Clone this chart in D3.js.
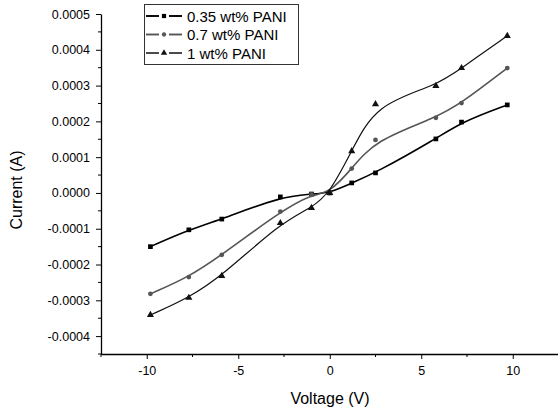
<!DOCTYPE html>
<html>
<head>
<meta charset="utf-8">
<script src="https://cdn.jsdelivr.net/npm/d3@7"></script>
<style>
  body { margin: 0; background: #fff; }
  text { font-family: "Liberation Sans", Arial, sans-serif; }
</style>
</head>
<body>
<script>
// data
var voltage = [-9.8, -7.7, -5.9, -2.7, -1.0, 0, 1.2, 2.5, 5.8, 7.2, 9.7];
var pani035 = [-0.000150, -0.000103, -0.000073, -0.000011, -0.000003, 0, 0.000028, 0.000056, 0.000151, 0.000198, 0.000246];
var pani07  = [-0.000282, -0.000235, -0.000173, -0.000052, -0.000004, 0, 0.000068, 0.000148, 0.000210, 0.000251, 0.000349];
var pani1   = [-0.000341, -0.000293, -0.000232, -0.000084, -0.000042, 0, 0.000117, 0.000248, 0.000299, 0.000349, 0.000439];
var seriesNames = ["0.35 wt% PANI", "0.7 wt% PANI", "1 wt% PANI"];
var xTicks = [-10, -5, 0, 5, 10];
var yTicks = [-0.0004, -0.0003, -0.0002, -0.0001, 0, 0.0001, 0.0002, 0.0003, 0.0004, 0.0005];

var W = 558, H = 409;

var x = d3.scaleLinear().domain([-12.5, 12.5]).range([101, 558.5]);
var y = d3.scaleLinear().domain([-0.00045, 0.0005]).range([354, 14]);

var svg = d3.select("body").append("svg")
    .attr("width", W)
    .attr("height", H);

// x axis
var xMinor = [-12.5, -7.5, -2.5, 2.5, 7.5, 12.5];
var gx = svg.append("g").attr("transform", "translate(0,354)");
gx.call(d3.axisBottom(x).tickValues(xTicks).tickSize(5).tickSizeOuter(0).tickFormat(d3.format("d")));
gx.append("g").selectAll("line").data(xMinor).enter().append("line")
    .attr("x1", d => x(d)).attr("x2", d => x(d))
    .attr("y1", 0).attr("y2", 3).attr("stroke", "#000");
gx.select(".domain").attr("stroke-width", 1.3);
gx.selectAll(".tick text").attr("font-size", 12.5).attr("y", 12).attr("dy", "0.75em")
    .attr("font-family", "Liberation Sans, Arial, sans-serif")
    .text(d => String(d).replace("\u2212", "-"));

// y axis
var yMinor = d3.range(-0.00045, 0.0005, 0.0001);
var gy = svg.append("g").attr("transform", "translate(101,0)");
gy.call(d3.axisLeft(y).tickValues(yTicks).tickSize(5).tickSizeOuter(0)
    .tickFormat(d => (Math.abs(d) < 1e-12 ? 0 : d).toFixed(4)));
gy.append("g").selectAll("line").data(yMinor).enter().append("line")
    .attr("y1", d => y(d)).attr("y2", d => y(d))
    .attr("x1", 0).attr("x2", -3).attr("stroke", "#000");
gy.select(".domain").attr("stroke-width", 1.3);
gy.selectAll(".tick text").attr("font-size", 12.5).attr("x", -11)
    .attr("font-family", "Liberation Sans, Arial, sans-serif");

// axis titles
svg.append("text")
    .attr("x", 330).attr("y", 404)
    .attr("text-anchor", "middle")
    .style("font-size", "16px")
    .text("Voltage (V)");

svg.append("text")
    .attr("transform", "translate(22,190) rotate(-90)")
    .attr("text-anchor", "middle")
    .style("font-size", "16px")
    .text("Current (A)");

// series
var series = [
  {name: seriesNames[0], vals: pani035, color: "#000", width: 1.6, mark: d3.symbolSquare, size: 22},
  {name: seriesNames[1], vals: pani07,  color: "#555", width: 1.6, mark: d3.symbolCircle, size: 18},
  {name: seriesNames[2], vals: pani1,   color: "#111", width: 1.2, mark: d3.symbolTriangle, size: 22}
];

var line = d3.line()
    .x(d => x(d[0]))
    .y(d => y(d[1]))
    .curve(d3.curveBasis);

series.forEach(function(s) {
  var pts = voltage.map((v, i) => [v, s.vals[i]]);
  svg.append("path")
      .datum(pts)
      .attr("fill", "none")
      .attr("stroke", s.color)
      .attr("stroke-width", s.width)
      .attr("d", line);
  svg.append("g").selectAll("path").data(pts).enter().append("path")
      .attr("transform", d => "translate(" + x(d[0]) + "," + y(d[1]) + ")")
      .attr("d", d3.symbol().type(s.mark).size(s.size))
      .attr("fill", s.color);
});

// legend
var lg = svg.append("g");
lg.append("rect")
    .attr("x", 144.5).attr("y", 4.5)
    .attr("width", 154).attr("height", 60)
    .attr("fill", "#fff").attr("stroke", "#333").attr("stroke-width", 1);

series.forEach(function(s, i) {
  var ly = 16 + i * 18.5;
  lg.append("line").attr("x1", 146).attr("x2", 159).attr("y1", ly).attr("y2", ly)
      .attr("stroke", s.color).attr("stroke-width", s.width + 0.3);
  lg.append("line").attr("x1", 169).attr("x2", 182).attr("y1", ly).attr("y2", ly)
      .attr("stroke", s.color).attr("stroke-width", s.width + 0.3);
  lg.append("path")
      .attr("transform", "translate(164," + ly + ")")
      .attr("d", d3.symbol().type(s.mark).size(s.size * 0.8))
      .attr("fill", s.color);
  lg.append("text")
      .attr("x", 187).attr("y", ly + 5.5)
      .style("font-size", "15px")
      .text(s.name);
});
</script>
</body>
</html>
